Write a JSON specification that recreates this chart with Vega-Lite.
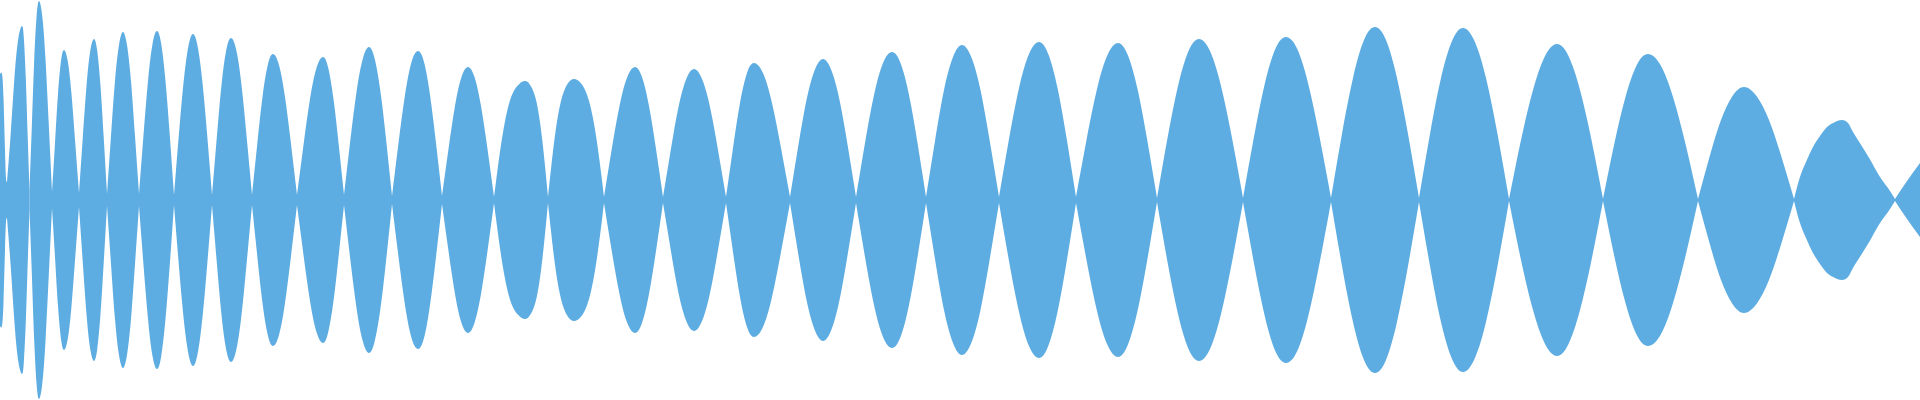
{
"$schema": "https://vega.github.io/schema/vega-lite/v6.json",
"width": 1920, "height": 400, "padding": 0,
"autosize": {"type": "fit", "contains": "padding"},
"config": {"view": {"stroke": null}},
"data": {"values": [
{"g":1,"t":0,"a":126},{"g":1,"t":2,"a":126},{"g":1,"t":3.5,"a":102},{"g":1,"t":5,"a":50},{"g":1,"t":6,"a":22},{"g":1,"t":7,"a":18},
{"g":2,"t":7,"a":18},{"g":2,"t":10.75,"a":67},{"g":2,"t":14.5,"a":123},{"g":2,"t":18.25,"a":161},{"g":2,"t":22,"a":174},{"g":2,"t":23.9,"a":161},{"g":2,"t":25.75,"a":123},{"g":2,"t":27.6,"a":67},{"g":2,"t":29.5,"a":10},
{"g":3,"t":29.5,"a":10},{"g":3,"t":31.9,"a":76},{"g":3,"t":34.25,"a":141},{"g":3,"t":36.6,"a":184},{"g":3,"t":39,"a":199},{"g":3,"t":42.25,"a":184},{"g":3,"t":45.5,"a":141},{"g":3,"t":48.75,"a":76},{"g":3,"t":52,"a":8},
{"g":4,"t":52,"a":8},{"g":4,"t":55,"a":57},{"g":4,"t":58,"a":106},{"g":4,"t":61,"a":139},{"g":4,"t":64,"a":150},{"g":4,"t":67.75,"a":139},{"g":4,"t":71.5,"a":106},{"g":4,"t":75.25,"a":57},{"g":4,"t":79,"a":7},
{"g":5,"t":79,"a":7},{"g":5,"t":82.75,"a":62},{"g":5,"t":86.5,"a":114},{"g":5,"t":90.25,"a":149},{"g":5,"t":94,"a":161},{"g":5,"t":97.25,"a":149},{"g":5,"t":100.5,"a":114},{"g":5,"t":103.75,"a":62},{"g":5,"t":107,"a":6},
{"g":6,"t":107,"a":6},{"g":6,"t":111,"a":64},{"g":6,"t":115,"a":119},{"g":6,"t":119,"a":155},{"g":6,"t":123,"a":168},{"g":6,"t":127,"a":155},{"g":6,"t":131,"a":119},{"g":6,"t":135,"a":64},{"g":6,"t":139,"a":6},
{"g":7,"t":139,"a":6},{"g":7,"t":143.5,"a":65},{"g":7,"t":148,"a":119},{"g":7,"t":152.5,"a":156},{"g":7,"t":157,"a":169},{"g":7,"t":161.25,"a":156},{"g":7,"t":165.5,"a":119},{"g":7,"t":169.75,"a":65},{"g":7,"t":174,"a":5},
{"g":8,"t":174,"a":5},{"g":8,"t":178.75,"a":64},{"g":8,"t":183.5,"a":117},{"g":8,"t":188.25,"a":153},{"g":8,"t":193,"a":166},{"g":8,"t":197.75,"a":153},{"g":8,"t":202.5,"a":117},{"g":8,"t":207.25,"a":64},{"g":8,"t":212,"a":5},
{"g":9,"t":212,"a":5},{"g":9,"t":216.75,"a":62},{"g":9,"t":221.5,"a":115},{"g":9,"t":226.25,"a":150},{"g":9,"t":231,"a":162},{"g":9,"t":236.25,"a":150},{"g":9,"t":241.5,"a":115},{"g":9,"t":246.75,"a":62},{"g":9,"t":252,"a":5},
{"g":10,"t":252,"a":5},{"g":10,"t":257.25,"a":56},{"g":10,"t":262.5,"a":103},{"g":10,"t":267.75,"a":135},{"g":10,"t":273,"a":146},{"g":10,"t":279,"a":135},{"g":10,"t":285,"a":103},{"g":10,"t":291,"a":56},{"g":10,"t":297,"a":5},
{"g":11,"t":297,"a":5},{"g":11,"t":303.5,"a":55},{"g":11,"t":310,"a":101},{"g":11,"t":316.5,"a":132},{"g":11,"t":323,"a":143},{"g":11,"t":328.25,"a":132},{"g":11,"t":333.5,"a":101},{"g":11,"t":338.75,"a":55},{"g":11,"t":344,"a":5},
{"g":12,"t":344,"a":5},{"g":12,"t":350.25,"a":59},{"g":12,"t":356.5,"a":108},{"g":12,"t":362.75,"a":141},{"g":12,"t":369,"a":153},{"g":12,"t":374.75,"a":141},{"g":12,"t":380.5,"a":108},{"g":12,"t":386.25,"a":59},{"g":12,"t":392,"a":4},
{"g":13,"t":392,"a":4},{"g":13,"t":398.5,"a":57},{"g":13,"t":405,"a":105},{"g":13,"t":411.5,"a":138},{"g":13,"t":418,"a":149},{"g":13,"t":424,"a":138},{"g":13,"t":430,"a":105},{"g":13,"t":436,"a":57},{"g":13,"t":442,"a":4},
{"g":14,"t":442,"a":4},{"g":14,"t":448.5,"a":51},{"g":14,"t":455,"a":94},{"g":14,"t":461.5,"a":123},{"g":14,"t":468,"a":133},{"g":14,"t":474.5,"a":123},{"g":14,"t":481,"a":94},{"g":14,"t":487.5,"a":51},{"g":14,"t":494,"a":3},
{"g":15,"t":494,"a":3},{"g":15,"t":501.75,"a":60},{"g":15,"t":509.5,"a":98},{"g":15,"t":517.25,"a":114},{"g":15,"t":525,"a":119},{"g":15,"t":530.75,"a":114},{"g":15,"t":536.5,"a":98},{"g":15,"t":542.25,"a":60},{"g":15,"t":548,"a":3},
{"g":16,"t":548,"a":3},{"g":16,"t":554.5,"a":61},{"g":16,"t":561,"a":99},{"g":16,"t":567.5,"a":116},{"g":16,"t":574,"a":121},{"g":16,"t":581.5,"a":116},{"g":16,"t":589,"a":99},{"g":16,"t":596.5,"a":61},{"g":16,"t":604,"a":3},
{"g":17,"t":604,"a":3},{"g":17,"t":611.75,"a":51},{"g":17,"t":619.5,"a":94},{"g":17,"t":627.25,"a":123},{"g":17,"t":635,"a":133},{"g":17,"t":642,"a":123},{"g":17,"t":649,"a":94},{"g":17,"t":656,"a":51},{"g":17,"t":663,"a":3},
{"g":18,"t":663,"a":3},{"g":18,"t":670.75,"a":50},{"g":18,"t":678.5,"a":93},{"g":18,"t":686.25,"a":121},{"g":18,"t":694,"a":131},{"g":18,"t":702,"a":121},{"g":18,"t":710,"a":93},{"g":18,"t":718,"a":50},{"g":18,"t":726,"a":3},
{"g":19,"t":726,"a":3},{"g":19,"t":733,"a":52},{"g":19,"t":740,"a":97},{"g":19,"t":747,"a":127},{"g":19,"t":754,"a":137},{"g":19,"t":763,"a":127},{"g":19,"t":772,"a":97},{"g":19,"t":781,"a":52},{"g":19,"t":790,"a":3},
{"g":20,"t":790,"a":3},{"g":20,"t":798.25,"a":54},{"g":20,"t":806.5,"a":100},{"g":20,"t":814.75,"a":130},{"g":20,"t":823,"a":141},{"g":20,"t":831.25,"a":130},{"g":20,"t":839.5,"a":100},{"g":20,"t":847.75,"a":54},{"g":20,"t":856,"a":3},
{"g":21,"t":856,"a":3},{"g":21,"t":865,"a":57},{"g":21,"t":874,"a":105},{"g":21,"t":883,"a":137},{"g":21,"t":892,"a":148},{"g":21,"t":900.5,"a":137},{"g":21,"t":909,"a":105},{"g":21,"t":917.5,"a":57},{"g":21,"t":926,"a":3},
{"g":22,"t":926,"a":3},{"g":22,"t":935,"a":59},{"g":22,"t":944,"a":110},{"g":22,"t":953,"a":143},{"g":22,"t":962,"a":155},{"g":22,"t":971.25,"a":143},{"g":22,"t":980.5,"a":110},{"g":22,"t":989.75,"a":59},{"g":22,"t":999,"a":3},
{"g":23,"t":999,"a":3},{"g":23,"t":1009,"a":61},{"g":23,"t":1019,"a":112},{"g":23,"t":1029,"a":146},{"g":23,"t":1039,"a":158},{"g":23,"t":1048.25,"a":146},{"g":23,"t":1057.5,"a":112},{"g":23,"t":1066.75,"a":61},{"g":23,"t":1076,"a":3},
{"g":24,"t":1076,"a":3},{"g":24,"t":1086.5,"a":60},{"g":24,"t":1097,"a":111},{"g":24,"t":1107.5,"a":145},{"g":24,"t":1118,"a":157},{"g":24,"t":1127.75,"a":145},{"g":24,"t":1137.5,"a":111},{"g":24,"t":1147.25,"a":60},{"g":24,"t":1157,"a":2},
{"g":25,"t":1157,"a":2},{"g":25,"t":1167.5,"a":62},{"g":25,"t":1178,"a":114},{"g":25,"t":1188.5,"a":149},{"g":25,"t":1199,"a":161},{"g":25,"t":1210,"a":149},{"g":25,"t":1221,"a":114},{"g":25,"t":1232,"a":62},{"g":25,"t":1243,"a":2},
{"g":26,"t":1243,"a":2},{"g":26,"t":1253.75,"a":62},{"g":26,"t":1264.5,"a":115},{"g":26,"t":1275.25,"a":151},{"g":26,"t":1286,"a":163},{"g":26,"t":1297.25,"a":151},{"g":26,"t":1308.5,"a":115},{"g":26,"t":1319.75,"a":62},{"g":26,"t":1331,"a":2},
{"g":27,"t":1331,"a":2},{"g":27,"t":1342,"a":66},{"g":27,"t":1353,"a":122},{"g":27,"t":1364,"a":160},{"g":27,"t":1375,"a":173},{"g":27,"t":1386,"a":160},{"g":27,"t":1397,"a":122},{"g":27,"t":1408,"a":66},{"g":27,"t":1419,"a":2},
{"g":28,"t":1419,"a":2},{"g":28,"t":1430,"a":66},{"g":28,"t":1441,"a":122},{"g":28,"t":1452,"a":159},{"g":28,"t":1463,"a":172},{"g":28,"t":1474.5,"a":159},{"g":28,"t":1486,"a":122},{"g":28,"t":1497.5,"a":66},{"g":28,"t":1509,"a":1},
{"g":29,"t":1509,"a":1},{"g":29,"t":1521,"a":60},{"g":29,"t":1533,"a":110},{"g":29,"t":1545,"a":144},{"g":29,"t":1557,"a":156},{"g":29,"t":1568.5,"a":144},{"g":29,"t":1580,"a":110},{"g":29,"t":1591.5,"a":60},{"g":29,"t":1603,"a":1},
{"g":30,"t":1603,"a":1},{"g":30,"t":1614.25,"a":56},{"g":30,"t":1625.5,"a":103},{"g":30,"t":1636.75,"a":135},{"g":30,"t":1648,"a":146},{"g":30,"t":1660.5,"a":135},{"g":30,"t":1673,"a":103},{"g":30,"t":1685.5,"a":56},{"g":30,"t":1698,"a":1},
{"g":31,"t":1698,"a":1},{"g":31,"t":1709.5,"a":43},{"g":31,"t":1721,"a":80},{"g":31,"t":1732.5,"a":104},{"g":31,"t":1744,"a":113},{"g":31,"t":1756.5,"a":104},{"g":31,"t":1769,"a":80},{"g":31,"t":1781.5,"a":43},{"g":31,"t":1794,"a":1},
{"g":32,"t":1794,"a":1},{"g":32,"t":1800,"a":23},{"g":32,"t":1806,"a":38},{"g":32,"t":1813,"a":53},{"g":32,"t":1820,"a":64},{"g":32,"t":1827,"a":73},{"g":32,"t":1835,"a":78},{"g":32,"t":1842,"a":80},{"g":32,"t":1848,"a":77},{"g":32,"t":1853,"a":68},{"g":32,"t":1863,"a":52},{"g":32,"t":1872,"a":37},{"g":32,"t":1880,"a":23},{"g":32,"t":1888,"a":12},{"g":32,"t":1895,"a":1},
{"g":33,"t":1895,"a":1},{"g":33,"t":1907,"a":19},{"g":33,"t":1920,"a":37}
]},
"layer": [
{"mark": {"type": "area", "color": "#5DADE2", "interpolate": "natural", "strokeWidth": 0},
 "encoding": {
  "x": {"field": "t", "type": "quantitative", "scale": {"domain": [0, 1920], "nice": false, "zero": false}, "axis": null},
  "y": {"field": "a", "type": "quantitative", "scale": {"domain": [-200, 200], "nice": false}, "axis": null},
  "y2": {"datum": 0},
  "detail": {"field": "g", "type": "nominal"}
 }},
{"mark": {"type": "area", "color": "#5DADE2", "interpolate": "natural", "strokeWidth": 0},
 "encoding": {
  "x": {"field": "t", "type": "quantitative", "scale": {"domain": [0, 1920], "nice": false, "zero": false}, "axis": null},
  "y": {"field": "a", "type": "quantitative", "scale": {"domain": [-200, 200], "nice": false, "reverse": true}, "axis": null},
  "y2": {"datum": 0},
  "detail": {"field": "g", "type": "nominal"}
 }}
],
"resolve": {"scale": {"y": "independent"}}
}
